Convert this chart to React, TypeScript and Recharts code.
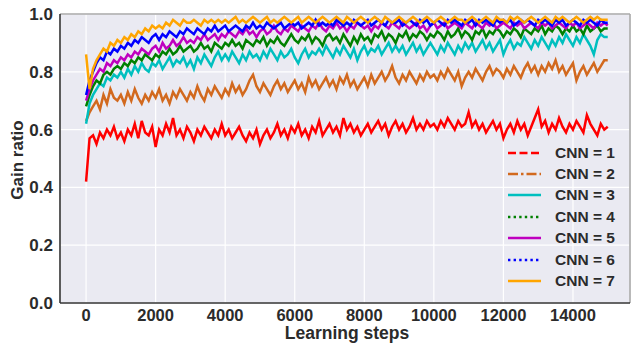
import {
  LineChart,
  Line,
  XAxis,
  YAxis,
  CartesianGrid,
  Legend,
  ReferenceLine,
} from 'recharts';

// sampling interval of the logged runs (learning steps)
const STEP = 100;

const xTicks = [0, 2000, 4000, 6000, 8000, 10000, 12000, 14000];
const yTicks = [0, 0.2, 0.4, 0.6, 0.8, 1.0];

// gain ratio per run, one value every STEP learning steps (0 .. 15000)
const cnn1 = [
  0.42, 0.57, 0.58, 0.55, 0.59, 0.57, 0.60, 0.58, 0.61, 0.57,
  0.59, 0.56, 0.60, 0.58, 0.62, 0.57, 0.63, 0.59, 0.58, 0.61,
  0.54, 0.60, 0.58, 0.62, 0.59, 0.64, 0.58, 0.60, 0.57, 0.61,
  0.59, 0.56, 0.60, 0.58, 0.61, 0.59, 0.57, 0.60, 0.58, 0.62,
  0.58, 0.60, 0.57, 0.59, 0.61, 0.58, 0.56, 0.59, 0.57, 0.60,
  0.55, 0.58, 0.60, 0.57, 0.59, 0.62, 0.58, 0.60, 0.57, 0.61,
  0.59, 0.62, 0.58, 0.60, 0.57, 0.61, 0.59, 0.63, 0.58, 0.60,
  0.62, 0.59, 0.61, 0.58, 0.64, 0.60, 0.62, 0.59, 0.61, 0.58,
  0.60, 0.62, 0.59, 0.61, 0.63, 0.60, 0.62, 0.58, 0.61, 0.63,
  0.60, 0.62, 0.59, 0.61, 0.64, 0.60, 0.62, 0.60, 0.63, 0.61,
  0.62, 0.60, 0.63, 0.61, 0.64, 0.62, 0.60, 0.63, 0.61, 0.62,
  0.66, 0.61, 0.63, 0.60, 0.62, 0.59, 0.61, 0.63, 0.60, 0.62,
  0.57, 0.60, 0.62, 0.59, 0.63, 0.60, 0.62, 0.58, 0.61, 0.64,
  0.67, 0.61, 0.63, 0.59, 0.62, 0.60, 0.64, 0.61, 0.59, 0.62,
  0.60, 0.63, 0.61, 0.59, 0.65, 0.62, 0.60, 0.58, 0.62, 0.60,
  0.61,
];
const cnn2 = [
  0.63, 0.66, 0.68, 0.70, 0.67, 0.72, 0.69, 0.74, 0.71, 0.70,
  0.72, 0.69, 0.73, 0.70, 0.74, 0.71, 0.69, 0.72, 0.70, 0.73,
  0.71, 0.74, 0.70, 0.72, 0.69, 0.73, 0.71, 0.74, 0.72, 0.70,
  0.73, 0.71, 0.75, 0.72, 0.70, 0.74, 0.72, 0.75, 0.73, 0.71,
  0.74, 0.72, 0.76, 0.73, 0.75, 0.72, 0.74, 0.77, 0.79, 0.75,
  0.73, 0.76, 0.74, 0.72, 0.75, 0.77, 0.74, 0.76, 0.73, 0.75,
  0.77, 0.74, 0.76, 0.73, 0.78, 0.75, 0.77, 0.74, 0.76, 0.78,
  0.75, 0.77, 0.74, 0.78, 0.76, 0.79, 0.75, 0.77, 0.74, 0.76,
  0.78, 0.75, 0.79, 0.76, 0.78, 0.80, 0.77, 0.79, 0.82, 0.78,
  0.76, 0.79, 0.77, 0.80, 0.78, 0.76, 0.79, 0.77, 0.80, 0.78,
  0.79, 0.77, 0.80, 0.78, 0.81, 0.79, 0.77, 0.80, 0.75, 0.78,
  0.80, 0.78, 0.81, 0.79, 0.77, 0.80, 0.82, 0.79, 0.81, 0.80,
  0.78, 0.81, 0.79, 0.82, 0.80, 0.78, 0.81, 0.83, 0.80, 0.82,
  0.79, 0.82, 0.80, 0.83, 0.81, 0.84, 0.80, 0.82, 0.79, 0.81,
  0.83, 0.77, 0.80, 0.82, 0.79, 0.81, 0.83, 0.80, 0.82, 0.84,
  0.84,
];
const cnn3 = [
  0.62, 0.69, 0.72, 0.74, 0.76, 0.75, 0.78, 0.77, 0.79, 0.78,
  0.80, 0.78, 0.81, 0.79, 0.82, 0.80, 0.83, 0.81, 0.80, 0.83,
  0.82, 0.84, 0.81, 0.83, 0.85, 0.82, 0.84, 0.83, 0.85, 0.82,
  0.84, 0.81, 0.85, 0.83, 0.86, 0.84, 0.82, 0.85, 0.87, 0.84,
  0.86, 0.84, 0.87, 0.85, 0.83, 0.86, 0.84, 0.87, 0.85, 0.86,
  0.84, 0.87, 0.85, 0.88, 0.86, 0.84, 0.87, 0.85, 0.86, 0.88,
  0.85, 0.83, 0.86, 0.88, 0.85, 0.87, 0.86, 0.88, 0.86, 0.89,
  0.87, 0.85, 0.88, 0.86, 0.89, 0.87, 0.85, 0.88, 0.84, 0.87,
  0.89, 0.86, 0.88, 0.87, 0.89, 0.86, 0.88, 0.90, 0.87, 0.89,
  0.87, 0.89, 0.86, 0.88, 0.90, 0.87, 0.89, 0.86, 0.88, 0.90,
  0.88, 0.86, 0.89, 0.87, 0.90, 0.88, 0.86, 0.89, 0.87, 0.90,
  0.88, 0.90, 0.87, 0.89, 0.91, 0.88, 0.90, 0.87, 0.89, 0.91,
  0.86, 0.89, 0.91, 0.88, 0.90, 0.89, 0.92, 0.90, 0.88, 0.91,
  0.89, 0.92, 0.90, 0.88, 0.91, 0.89, 0.92, 0.90, 0.93, 0.91,
  0.89, 0.92, 0.90, 0.93, 0.91, 0.89, 0.86, 0.91, 0.93, 0.92,
  0.92,
];
const cnn4 = [
  0.68, 0.72, 0.75, 0.77, 0.76, 0.79, 0.80, 0.79, 0.81, 0.82,
  0.81, 0.83, 0.82, 0.84, 0.83, 0.85, 0.84, 0.86, 0.85, 0.84,
  0.86, 0.85, 0.87, 0.86, 0.88, 0.86, 0.87, 0.89, 0.87, 0.88,
  0.89, 0.87, 0.88, 0.90, 0.88, 0.89, 0.87, 0.90, 0.89, 0.88,
  0.90, 0.89, 0.91, 0.89, 0.90, 0.88, 0.91, 0.90, 0.89, 0.91,
  0.90, 0.92, 0.89, 0.91, 0.90, 0.92, 0.90, 0.89, 0.91, 0.93,
  0.91, 0.90, 0.92, 0.91, 0.93, 0.90, 0.92, 0.91, 0.89, 0.92,
  0.93, 0.91, 0.92, 0.90, 0.93, 0.91, 0.89, 0.92, 0.90, 0.93,
  0.91, 0.92, 0.90, 0.93, 0.92, 0.94, 0.91, 0.93, 0.92, 0.90,
  0.93, 0.92, 0.94, 0.91, 0.93, 0.92, 0.94, 0.93, 0.91, 0.93,
  0.92, 0.94, 0.93, 0.91, 0.94, 0.92, 0.93, 0.95, 0.92, 0.94,
  0.93, 0.91, 0.94, 0.93, 0.95, 0.92, 0.94, 0.93, 0.95, 0.94,
  0.92, 0.94, 0.93, 0.95, 0.94, 0.92, 0.95, 0.94, 0.93, 0.95,
  0.94, 0.96, 0.93, 0.95, 0.94, 0.96, 0.95, 0.93, 0.95, 0.94,
  0.96, 0.94, 0.95, 0.93, 0.96, 0.94, 0.95, 0.96, 0.94, 0.95,
  0.95,
];
const cnn5 = [
  0.70, 0.74, 0.77, 0.79, 0.81, 0.80, 0.83, 0.82, 0.84, 0.83,
  0.85, 0.84, 0.86, 0.85, 0.87, 0.86, 0.88, 0.87, 0.86, 0.88,
  0.89, 0.87, 0.90, 0.88, 0.89, 0.91, 0.89, 0.90, 0.92, 0.90,
  0.91, 0.90, 0.92, 0.91, 0.93, 0.91, 0.92, 0.93, 0.91, 0.93,
  0.92, 0.94, 0.93, 0.92, 0.94, 0.93, 0.95, 0.93, 0.94, 0.92,
  0.94, 0.95, 0.93, 0.94, 0.96, 0.94, 0.93, 0.95, 0.94, 0.96,
  0.95, 0.94, 0.96, 0.95, 0.94, 0.96, 0.95, 0.97, 0.95, 0.94,
  0.96, 0.95, 0.97, 0.95, 0.96, 0.94, 0.96, 0.95, 0.97, 0.96,
  0.95, 0.96, 0.94, 0.96, 0.95, 0.97, 0.96, 0.95, 0.97, 0.96,
  0.95, 0.97, 0.96, 0.95, 0.96, 0.97, 0.95, 0.96, 0.94, 0.96,
  0.97, 0.95, 0.96, 0.97, 0.95, 0.96, 0.97, 0.96, 0.95, 0.97,
  0.96, 0.95, 0.97, 0.96, 0.95, 0.97, 0.96, 0.97, 0.95, 0.96,
  0.97, 0.96, 0.95, 0.97, 0.96, 0.97, 0.95, 0.96, 0.97, 0.96,
  0.95, 0.97, 0.96, 0.97, 0.95, 0.96, 0.97, 0.96, 0.95, 0.97,
  0.96, 0.97, 0.95, 0.96, 0.97, 0.96, 0.95, 0.97, 0.96, 0.97,
  0.96,
];
const cnn6 = [
  0.72, 0.77, 0.80, 0.83, 0.85, 0.84, 0.87, 0.86, 0.88, 0.87,
  0.89, 0.88, 0.90, 0.89, 0.91, 0.90, 0.92, 0.91, 0.90, 0.92,
  0.93, 0.91, 0.93, 0.92, 0.94, 0.93, 0.92, 0.94, 0.93, 0.95,
  0.94, 0.93, 0.95, 0.94, 0.93, 0.95, 0.94, 0.96, 0.94, 0.95,
  0.96, 0.94, 0.95, 0.96, 0.95, 0.94, 0.96, 0.95, 0.97, 0.95,
  0.96, 0.95, 0.97, 0.96, 0.95, 0.96, 0.97, 0.95, 0.96, 0.97,
  0.96, 0.97, 0.95, 0.96, 0.97, 0.96, 0.98, 0.96, 0.97, 0.96,
  0.97, 0.96, 0.98, 0.97, 0.96, 0.97, 0.96, 0.98, 0.97, 0.96,
  0.97, 0.98, 0.96, 0.97, 0.98, 0.97, 0.96, 0.98, 0.97, 0.97,
  0.98, 0.96, 0.97, 0.98, 0.97, 0.96, 0.98, 0.97, 0.98, 0.96,
  0.97, 0.98, 0.97, 0.96, 0.98, 0.97, 0.98, 0.97, 0.96, 0.98,
  0.97, 0.98, 0.96, 0.98, 0.97, 0.98, 0.97, 0.96, 0.98, 0.97,
  0.98, 0.97, 0.98, 0.96, 0.97, 0.98, 0.97, 0.98, 0.97, 0.96,
  0.98, 0.97, 0.98, 0.97, 0.96, 0.98, 0.97, 0.98, 0.96, 0.97,
  0.98, 0.97, 0.96, 0.98, 0.97, 0.98, 0.97, 0.96, 0.98, 0.97,
  0.97,
];
const cnn7 = [
  0.86, 0.74, 0.81, 0.84, 0.86, 0.88, 0.87, 0.90, 0.89, 0.91,
  0.90, 0.92, 0.91, 0.93, 0.92, 0.94, 0.93, 0.95, 0.94, 0.96,
  0.95, 0.96, 0.95, 0.97, 0.96, 0.98, 0.97, 0.96, 0.98, 0.97,
  0.97, 0.98, 0.97, 0.96, 0.98, 0.97, 0.98, 0.97, 0.98, 0.97,
  0.98, 0.97, 0.98, 0.99, 0.97, 0.98, 0.97, 0.98, 0.99, 0.98,
  0.97, 0.98, 0.99, 0.97, 0.98, 0.97, 0.98, 0.99, 0.98, 0.97,
  0.98, 0.99, 0.97, 0.98, 0.99, 0.98, 0.97, 0.98, 0.99, 0.98,
  0.97, 0.98, 0.99, 0.98, 0.97, 0.99, 0.98, 0.97, 0.98, 0.99,
  0.98, 0.97, 0.98, 0.99, 0.98, 0.97, 0.99, 0.98, 0.97, 0.98,
  0.99, 0.98, 0.97, 0.98, 0.99, 0.98, 0.97, 0.98, 0.99, 0.98,
  0.97, 0.98, 0.99, 0.98, 0.97, 0.98, 0.99, 0.98, 0.98, 0.97,
  0.98, 0.99, 0.98, 0.97, 0.98, 0.99, 0.98, 0.97, 0.99, 0.98,
  0.98, 0.97, 0.99, 0.98, 0.99, 0.98, 0.97, 0.98, 0.99, 0.98,
  0.97, 0.98, 0.99, 0.98, 0.97, 0.99, 0.98, 0.99, 0.98, 0.97,
  0.98, 0.99, 0.98, 0.97, 0.98, 0.99, 0.98, 0.99, 0.98, 0.98,
  0.98,
];

const series = [
  { key: 'cnn1', name: 'CNN = 1', values: cnn1, color: '#ff0000', dash: '8 3.5' },
  { key: 'cnn2', name: 'CNN = 2', values: cnn2, color: '#d2691e', dash: '10 3 2.5 3' },
  { key: 'cnn3', name: 'CNN = 3', values: cnn3, color: '#00bfbf', dash: undefined },
  { key: 'cnn4', name: 'CNN = 4', values: cnn4, color: '#008000', dash: '2.4 3.2' },
  { key: 'cnn5', name: 'CNN = 5', values: cnn5, color: '#bf00bf', dash: undefined },
  { key: 'cnn6', name: 'CNN = 6', values: cnn6, color: '#0000ff', dash: '2.4 3.2' },
  { key: 'cnn7', name: 'CNN = 7', values: cnn7, color: '#ffa500', dash: undefined },
];

const chartData = cnn1.map((_, i) => {
  const row: { [key: string]: number } = { step: i * STEP };
  series.forEach((s) => {
    row[s.key] = s.values[i];
  });
  return row;
});

const FONT = '"Liberation Sans", Arial, Helvetica, sans-serif';
const TEXT = '#2b2b2b';

const LegendBox = () => (
  <div style={{ fontFamily: FONT, fontWeight: 700, fontSize: 15.5, color: TEXT }}>
    {series.map((s) => (
      <div key={s.key} style={{ height: 21.4, display: 'flex', alignItems: 'center' }}>
        <svg width={38} height={10} style={{ marginRight: 12 }}>
          <line
            x1={3}
            y1={5}
            x2={36}
            y2={5}
            stroke={s.color}
            strokeWidth={2.6}
            strokeDasharray={s.dash}
          />
        </svg>
        <span>{s.name}</span>
      </div>
    ))}
  </div>
);

export default function App() {
  return (
    <div style={{ position: 'absolute', left: 0, top: 0, background: '#fff' }}>
      <LineChart
        width={631}
        height={345}
        data={chartData}
        margin={{ top: 14, right: 1, bottom: 0, left: 0 }}
      >
        <CartesianGrid
          stroke="#ffffff"
          strokeWidth={1.2}
          fill="#eaeaf2"
          fillOpacity={1}
        />
        <XAxis
          type="number"
          dataKey="step"
          domain={[-750, 15640]}
          ticks={xTicks}
          allowDataOverflow
          height={42}
          tickLine={false}
          tickSize={0}
          tickMargin={6}
          axisLine={{ stroke: '#333333', strokeWidth: 1.6 }}
          tick={{ fill: TEXT, fontSize: 16.5, fontWeight: 700, fontFamily: FONT }}
          label={{
            content: () => (
              <text
                x={347}
                y={339}
                textAnchor="middle"
                fill={TEXT}
                fontSize={17.5}
                fontWeight={700}
                fontFamily={FONT}
              >
                Learning steps
              </text>
            ),
          }}
        />
        <YAxis
          type="number"
          domain={[0, 1]}
          ticks={yTicks}
          width={60}
          tickLine={false}
          tickSize={0}
          tickMargin={7}
          tickFormatter={(v: number) => v.toFixed(1)}
          axisLine={{ stroke: '#333333', strokeWidth: 1.6 }}
          tick={{ fill: TEXT, fontSize: 17, fontWeight: 700, fontFamily: FONT }}
          label={{
            content: () => (
              <text
                transform="translate(17,160) rotate(-90)"
                textAnchor="middle"
                dominantBaseline="central"
                fill={TEXT}
                fontSize={17}
                fontWeight={700}
                fontFamily={FONT}
              >
                Gain ratio
              </text>
            ),
          }}
        />
        <ReferenceLine y={1} stroke="#a8a8a8" strokeWidth={1.6} />
        <ReferenceLine x={15640} stroke="#a8a8a8" strokeWidth={1.6} />
        {series.map((s) => (
          <Line
            key={s.key}
            type="linear"
            dataKey={s.key}
            name={s.name}
            stroke={s.color}
            strokeWidth={2.5}
            dot={false}
            activeDot={false}
            isAnimationActive={false}
          />
        ))}
        <Legend
          layout="vertical"
          align="center"
          verticalAlign="middle"
          content={() => <LegendBox />}
          wrapperStyle={{ left: 505, top: 142, width: 125, height: 150 }}
        />
      </LineChart>
    </div>
  );
}
